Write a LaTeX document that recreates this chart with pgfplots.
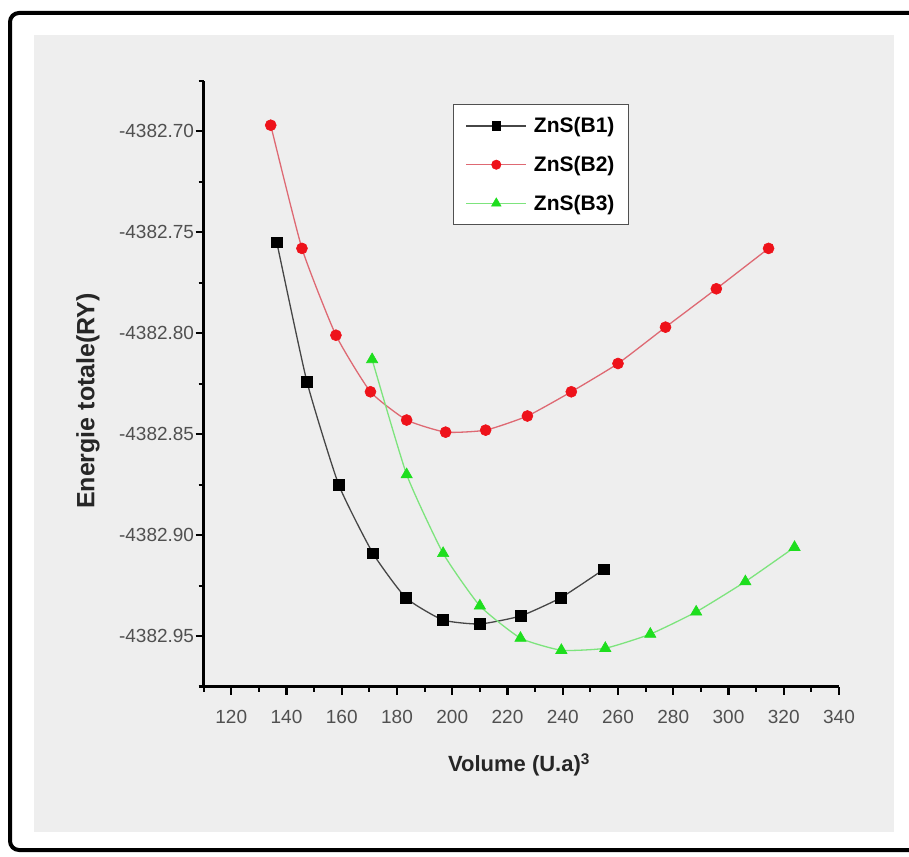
\documentclass[border=0pt]{standalone}
\usepackage{fontspec}
\setmainfont{Liberation Sans}
\usepackage{pgfplots}
\pgfplotsset{compat=1.18}

\definecolor{panel}{RGB}{238,238,238}
\definecolor{ticklab}{RGB}{80,80,80}
\definecolor{bOneLine}{RGB}{70,70,70}
\definecolor{bTwoMark}{RGB}{238,18,26}
\definecolor{bTwoLine}{RGB}{222,105,115}
\definecolor{bThreeMark}{RGB}{30,222,30}
\definecolor{bThreeLine}{RGB}{125,228,125}

% Energies are around -4382 Ry; shift them with exact TeX dimension
% arithmetic so that the small differences keep their precision.
\newdimen\energydim
\makeatletter
\pgfplotsset{energy offset/.style={
  y coord trafo/.code={%
    \pgfmathfloatparsenumber{##1}%
    \pgfmathfloattofixed{\pgfmathresult}%
    \energydim=\pgfmathresult pt\relax
    \advance\energydim by 4382pt\relax
    \edef\pgfmathresult{\pgfmath@tonumber\energydim}}}}
\makeatother

\begin{document}
\begin{tikzpicture}[x=1pt,y=1pt]
\path[use as bounding box] (0,0) rectangle (909,856);
\fill[white] (0,0) rectangle (909,856);
\fill[panel] (34,24) rectangle (894,821);
\draw[line width=4pt, rounded corners=9pt] (911,843) -- (10,843) -- (10,6) -- (911,6);

\begin{axis}[
  energy offset,
  at={(203.6pt,169.4pt)}, anchor=south west,
  scale only axis, width=635.4pt, height=605.8pt,
  xmin=110, xmax=340,
  ymin=-4382.975, ymax=-4382.675,
  axis x line*=bottom, axis y line*=left,
  axis line style={-, line width=2.6pt, black},
  every outer x axis line/.append style={-, line width=2.6pt, black},
  every outer y axis line/.append style={-, line width=2.6pt, black},
  tick align=outside,
  major tick length=8pt, minor tick length=5pt,
  tick style={line width=2.2pt, black},
  xtick={120,140,...,340},
  minor xtick={110,130,...,330},
  ytick={-4382.95,-4382.90,-4382.85,-4382.80,-4382.75,-4382.70},
  yticklabels={-4382.95,-4382.90,-4382.85,-4382.80,-4382.75,-4382.70},
  minor ytick={-4382.975,-4382.925,-4382.875,-4382.825,-4382.775,-4382.725,-4382.675},
  /pgf/number format/assume math mode=true,
  ticklabel style={font=\fontsize{19}{22}\selectfont, text=ticklab},
  xticklabel style={yshift=-12pt},
  yticklabel style={xshift=2pt},
  xlabel={Volume (U.a)\textsuperscript{3}},
  ylabel={Energie totale(RY)},
  xlabel style={at={(axis description cs:0.4964,-0.1294)}, anchor=center,
    font=\fontsize{22}{26}\selectfont\bfseries, text=black!85},
  ylabel style={at={(axis description cs:-0.182,0.4714)}, anchor=center,
    font=\fontsize{25}{30}\selectfont\bfseries, text=black!85},
  legend cell align=left,
  legend image code/.code={\draw[mark repeat=2,mark phase=2,#1,
      every mark/.append style={scale=0.85}]
    plot coordinates {(0pt,0pt) (30pt,0pt) (60pt,0pt)};},
  legend style={at={(axis description cs:0.3925,0.9617)}, anchor=north west,
    draw=ticklab, line width=1.3pt, fill=white,
    font=\fontsize{21}{25}\selectfont\bfseries,
    inner xsep=12pt, inner ysep=11pt, row sep=18pt,
    /tikz/every odd column/.append style={column sep=5pt}},
]
\addplot[color=bOneLine, line width=1.3pt, smooth, tension=0.3,
  mark=square*, mark size=5.2pt, mark options={fill=black, draw=black, solid, line width=0.6pt}]
  coordinates {
  (136.5,-4382.755) (147.4,-4382.824) (158.9,-4382.875) (171.3,-4382.909)
  (183.2,-4382.931) (196.6,-4382.942) (210.0,-4382.944) (224.8,-4382.940)
  (239.3,-4382.931) (254.8,-4382.917)};
\addlegendentry{ZnS(B1)}
\addplot[color=bTwoLine, line width=1.3pt, smooth, tension=0.3,
  mark=*, mark size=5.5pt, mark options={fill=bTwoMark, draw=bTwoMark, solid, line width=0.6pt}]
  coordinates {
  (134.3,-4382.697) (145.6,-4382.758) (157.9,-4382.801) (170.4,-4382.829)
  (183.5,-4382.843) (197.6,-4382.849) (212.1,-4382.848) (227.2,-4382.841)
  (243.1,-4382.829) (260.0,-4382.815) (277.2,-4382.797) (295.6,-4382.778)
  (314.5,-4382.758)};
\addlegendentry{ZnS(B2)}
\addplot[color=bThreeLine, line width=1.3pt, smooth, tension=0.3,
  mark=triangle*, mark size=6.5pt, mark options={fill=bThreeMark, draw=bThreeMark, solid, line width=0.6pt}]
  coordinates {
  (171.0,-4382.813) (183.5,-4382.870) (196.7,-4382.909) (210.0,-4382.935)
  (224.7,-4382.951) (239.5,-4382.957) (255.4,-4382.956) (271.7,-4382.949)
  (288.3,-4382.938) (306.1,-4382.923) (323.9,-4382.906)};
\addlegendentry{ZnS(B3)}
\end{axis}
\end{tikzpicture}
\end{document}
